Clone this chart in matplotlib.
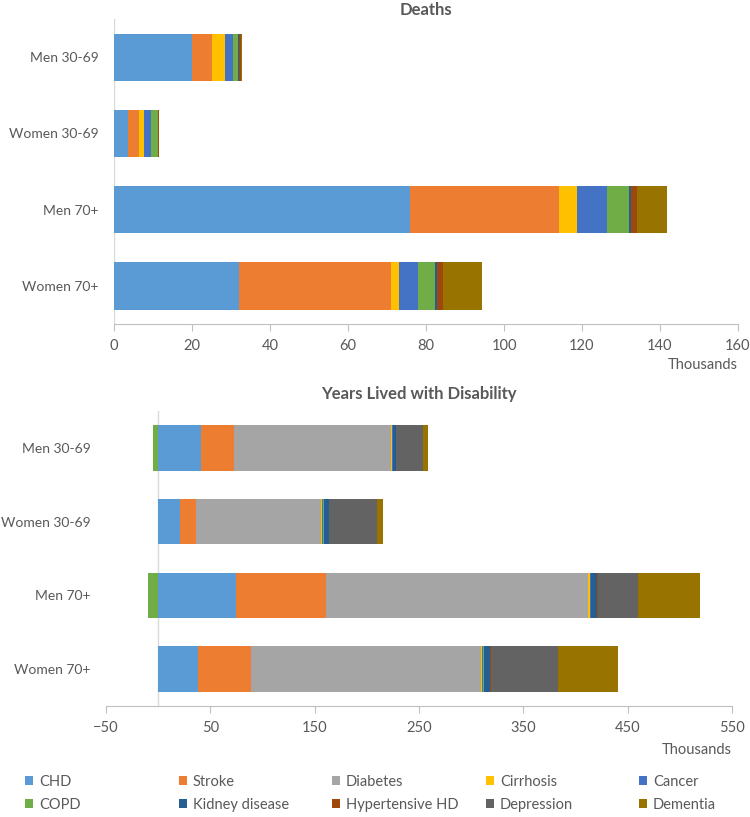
import numpy as np
import matplotlib
matplotlib.use('Agg')
import matplotlib.pyplot as plt

plt.rcParams['font.family'] = ['Lato', 'DejaVu Sans']

# groups (top to bottom)
grupos = ['Men 30-69', 'Women 30-69', 'Men 70+', 'Women 70+']
causas = ['CHD', 'Stroke', 'Diabetes', 'Cirrhosis', 'Cancer',
          'COPD', 'Kidney disease', 'Hypertensive HD', 'Depression', 'Dementia']
cores = ['#5B9BD5', '#ED7D31', '#A5A5A5', '#FFC000', '#4472C4',
         '#70AD47', '#255E91', '#9E480E', '#636363', '#997300']

# deaths, thousands
mortes_chd = [20, 3.5, 76, 32]
mortes_stroke = [5, 2.9, 38, 39]
mortes_diabetes = [0, 0, 0, 0]
mortes_cirrhosis = [3.4, 1.4, 4.7, 2.2]
mortes_cancer = [2.0, 1.7, 7.7, 4.8]
mortes_copd = [1.4, 1.7, 5.6, 4.4]
mortes_kidney = [0.2, 0.1, 0.6, 0.4]
mortes_hhd = [0.6, 0.3, 1.6, 1.5]
mortes_depression = [0, 0, 0, 0]
mortes_dementia = [0.1, 0.05, 7.7, 10]

# years lived with disability, thousands
yld_chd = [41, 21, 74.5, 38]
yld_stroke = [32, 15, 86.5, 51]
yld_diabetes = [150, 120, 251, 220]
yld_cirrhosis = [1.6, 1.5, 1.9, 1.5]
yld_cancer = [0.5, 0.3, 1, 0.5]
yld_copd = [-5, 1.5, -9.6, 1.5]
yld_kidney = [3, 4, 6, 6]
yld_hhd = [0.3, 0.3, 0.5, 0.5]
yld_depression = [25.5, 46, 38.3, 64.5]
yld_dementia = [4.7, 6.3, 59.5, 57]

mortes = [mortes_chd, mortes_stroke, mortes_diabetes, mortes_cirrhosis, mortes_cancer,
          mortes_copd, mortes_kidney, mortes_hhd, mortes_depression, mortes_dementia]
yld = [yld_chd, yld_stroke, yld_diabetes, yld_cirrhosis, yld_cancer,
       yld_copd, yld_kidney, yld_hhd, yld_depression, yld_dementia]

cinza = '#595959'


def barras(ax, dados):
    y = np.arange(len(grupos))
    pos = np.zeros(len(grupos))
    neg = np.zeros(len(grupos))
    hs = []
    for serie, nome, c in zip(dados, causas, cores):
        v = np.array(serie, dtype=float)
        left = np.where(v >= 0, pos, neg)
        h = ax.barh(y, v, left=left, height=0.62, color=c, label=nome, linewidth=0)
        pos = pos + np.where(v >= 0, v, 0)
        neg = neg + np.where(v < 0, v, 0)
        hs.append(h)
    ax.set_yticks(y)
    ax.set_yticklabels(grupos)
    ax.set_ylim(3.5, -0.5)
    ax.tick_params(axis='y', length=0, labelsize=10, labelcolor=cinza, pad=11)
    ax.tick_params(axis='x', length=5, color='#BFBFBF', labelsize=10.5, labelcolor=cinza, pad=6)
    for s in ['top', 'right', 'left']:
        ax.spines[s].set_visible(False)
    ax.spines['bottom'].set_color('#BFBFBF')
    ax.axvline(0, color='#D9D9D9', lw=1, zorder=0)
    return hs


fig = plt.figure(figsize=(7.5, 8.17), dpi=100)

ax1 = fig.add_axes([0.152, 0.6034, 0.832, 0.3733])
hs = barras(ax1, mortes)
ax1.set_xlim(0, 160)
ax1.set_xticks(np.arange(0, 161, 20))
ax1.set_title('Deaths', fontsize=12, fontweight='bold', color=cinza, pad=3)
ax1.text(1.0, -0.135, 'Thousands', transform=ax1.transAxes, ha='right', va='center',
         fontsize=10.5, color=cinza)

ax2 = fig.add_axes([0.1413, 0.1359, 0.8347, 0.361])
barras(ax2, yld)
ax2.set_xlim(-50, 550)
ax2.set_xticks(np.arange(-50, 551, 100))
ax2.set_title('Years Lived with Disability', fontsize=12, fontweight='bold', color=cinza, pad=9)
ax2.text(1.0, -0.15, 'Thousands', transform=ax2.transAxes, ha='right', va='center',
         fontsize=10.5, color=cinza)

# legend: one small legend per column (2 rows x 5 columns)
colunas_x = [25, 179, 332, 486, 639]
for j, x in enumerate(colunas_x):
    idx = [j, j + 5]
    leg = fig.legend([hs[i] for i in idx], [causas[i] for i in idx],
                     loc='upper left', bbox_to_anchor=(x / 750, 1 - 775 / 817),
                     frameon=False, fontsize=10.5, labelcolor=cinza,
                     handlelength=0.55, handleheight=0.55, handletextpad=0.4,
                     labelspacing=0.62, borderpad=0, borderaxespad=0)

fig.savefig('out.png', dpi=100)
